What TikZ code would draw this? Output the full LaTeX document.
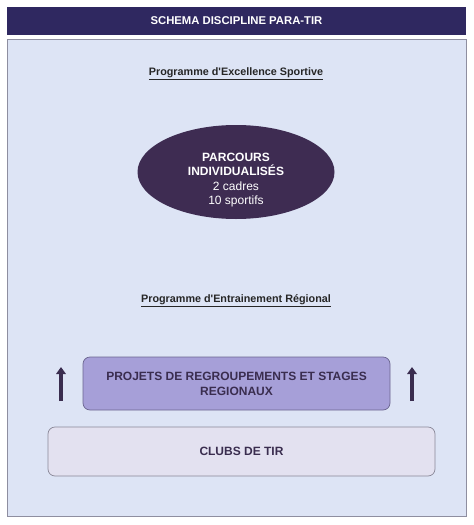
\documentclass[tikz,border=0pt]{standalone}
\usepackage{fontspec}
\setmainfont{Liberation Sans}
\usetikzlibrary{arrows.meta,shapes.geometric}
\definecolor{hdr}{HTML}{2F2860}
\definecolor{panel}{HTML}{DDE4F5}
\definecolor{panelline}{HTML}{8E8EA0}
\definecolor{ell}{HTML}{3E2C52}
\definecolor{proj}{HTML}{A69FD8}
\definecolor{projline}{HTML}{6B6590}
\definecolor{clubs}{HTML}{E3E1F0}
\definecolor{clubsline}{HTML}{8A8898}
\definecolor{darktxt}{HTML}{3A2D4F}
\tikzset{
  rbox/.style={draw, rounded corners=7pt, line width=0.7pt, align=center, inner sep=0pt},
  lbl/.style={font=\bfseries\fontsize{10.8}{13}\selectfont, text=black!85},
  uparrow/.style={-{Triangle[width=9.5pt,length=7pt]}, line width=4.5pt, draw=darktxt}
}
\begin{document}
\begin{tikzpicture}[x=1pt,y=-1pt]
\useasboundingbox (0,0) rectangle (474,525);
\fill[white] (0,0) rectangle (474,525);
% header
\node[fill=hdr, minimum width=459pt, minimum height=28pt, inner sep=0pt, text=white,
      font=\bfseries\fontsize{11.3}{13}\selectfont] (hdr) at (236.5,21) {SCHEMA DISCIPLINE PARA-TIR};
% panel
\node[fill=panel, draw=panelline, line width=0.8pt, minimum width=459pt, minimum height=477pt, inner sep=0pt] (panel) at (236.5,277.5) {};
% labels
\node[lbl] (pes) at (236,74) {\underline{Programme d\textquotesingle Excellence Sportive}};
\node[lbl] (per) at (236,300.5) {\underline{Programme d\textquotesingle Entrainement Régional}};
% ellipse
\node[ellipse, fill=ell, minimum width=197pt, minimum height=94pt, inner sep=0pt] (parc) at (236,172) {};
\node[text=white, align=center, font=\fontsize{12}{14.5}\selectfont, inner sep=0pt] (parctxt) at (236,180)
  {{\bfseries PARCOURS}\\{\bfseries INDIVIDUALISÉS}\\2 cadres\\10 sportifs};
% projects
\node[rbox, fill=proj, draw=projline, minimum width=307pt, minimum height=53pt, text=darktxt,
      font=\bfseries\fontsize{12}{15}\selectfont] (proj) at (236.5,383.5)
  {PROJETS DE REGROUPEMENTS ET STAGES\\REGIONAUX};
% clubs
\node[rbox, fill=clubs, draw=clubsline, minimum width=387pt, minimum height=49pt, text=darktxt,
      font=\bfseries\fontsize{12}{14}\selectfont] (clubs) at (241.5,451.5) {CLUBS DE TIR};
% arrows
\coordinate (la0) at (61,401); \coordinate (la1) at (61,367);
\coordinate (ra0) at (412,401); \coordinate (ra1) at (412,367);
\draw[uparrow] (la0) -- (la1);
\draw[uparrow] (ra0) -- (ra1);
\end{tikzpicture}
\end{document}
